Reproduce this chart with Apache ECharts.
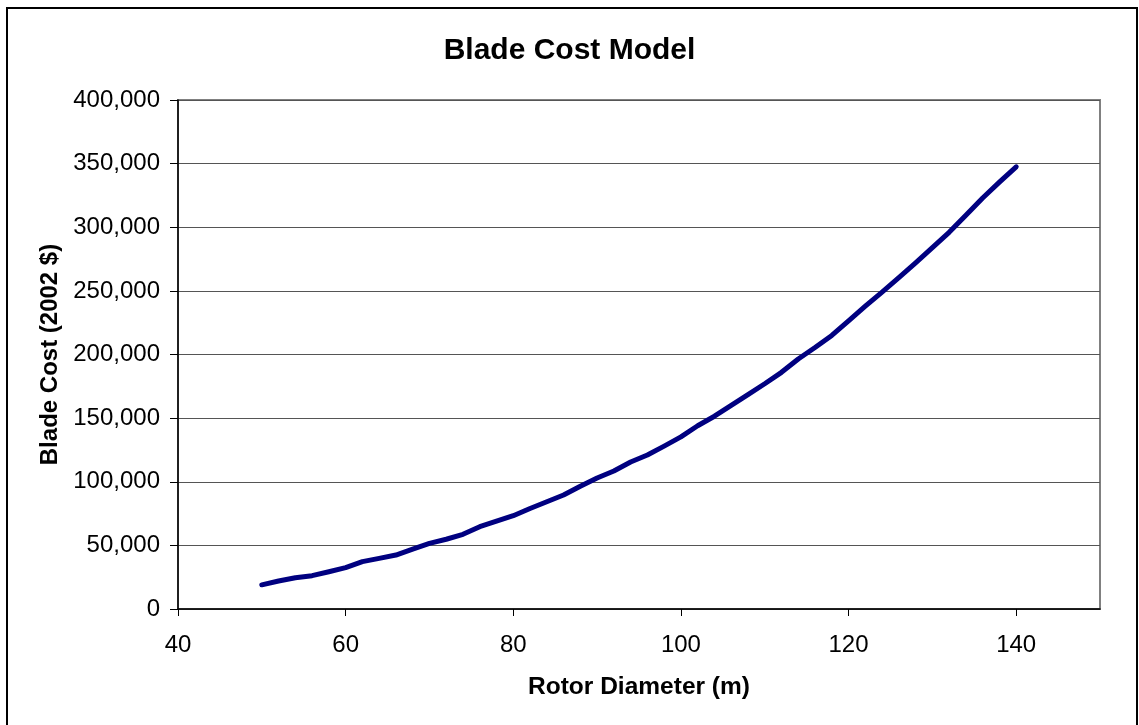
<!DOCTYPE html>
<html>
<head>
<meta charset="utf-8">
<script src="https://cdn.jsdelivr.net/npm/echarts@6/dist/echarts.min.js"></script>
<style>
html,body{margin:0;padding:0;background:#fff;}
#chart{width:1139px;height:725px;}
</style>
</head>
<body>
<div id="chart"></div>
<script>
const rotorDiameter = [50,52,54,56,58,60,62,64,66,68,70,72,74,76,78,80,82,84,86,88,90,92,94,96,98,100,102,104,106,108,110,112,114,116,118,120,122,124,126,128,130,132,134,136,138,140];
const bladeCost = [19000,22000,24600,26200,29300,32500,37200,39800,42400,47000,51600,54800,58700,64700,69000,73300,79000,84300,89600,96500,103000,108500,115500,121000,128000,135300,144000,151500,160000,168500,177000,186000,196500,205500,215000,226500,238000,249000,260500,272000,284000,296000,309500,323000,335500,347500];
const titleText = "Blade Cost Model";
const xName = "Rotor Diameter (m)";
const yName = "Blade Cost (2002 $)";

const chart = echarts.init(document.getElementById('chart'), null, {renderer:'canvas'});
const font = "'Liberation Sans', Arial, sans-serif";
chart.setOption({
  backgroundColor:'#fff',
  animation:false,
  title:{
    text:titleText, left:'center', top:31,
    textStyle:{fontFamily:font, fontSize:30, fontWeight:'bold', color:'#000'}
  },
  grid:{left:178, top:100, right:39, bottom:116, show:true, borderColor:'#808080', borderWidth:2, backgroundColor:'#fff', containLabel:false, outerBoundsMode:'none'},
  xAxis:{
    type:'value', min:40, max:150, interval:20,
    name:xName, nameLocation:'middle', nameGap:66,
    nameTextStyle:{fontFamily:font, fontSize:24.5, fontWeight:'bold', color:'#000'},
    axisLine:{onZero:false, lineStyle:{color:'#000', width:1.5}},
    axisTick:{show:true, length:7, lineStyle:{color:'#000'}},
    axisLabel:{fontFamily:font, fontSize:24, color:'#000', margin:24, showMaxLabel:false},
    splitLine:{show:false}
  },
  yAxis:{
    type:'value', min:0, max:400000, interval:50000,
    name:yName, nameLocation:'middle', nameGap:116, nameRotate:90,
    nameTextStyle:{fontFamily:font, fontSize:24, fontWeight:'bold', color:'#000'},
    axisLine:{show:true, lineStyle:{color:'#000', width:1.5}},
    axisTick:{show:true, length:8, lineStyle:{color:'#000'}},
    axisLabel:{fontFamily:font, fontSize:24, color:'#000', margin:18,
      formatter:v=>v.toLocaleString('en-US')},
    splitLine:{show:true, lineStyle:{color:'#555', width:1}}
  },
  series:[{
    type:'line',
    data:rotorDiameter.map((d,i)=>[d,bladeCost[i]]),
    symbol:'none', smooth:false,
    lineStyle:{color:'#000080', width:5, cap:'round', join:'round'},
    z:5
  }],
  graphic:[{
    type:'rect', silent:true, z:100,
    shape:{x:7, y:8, width:1130, height:730},
    style:{fill:null, stroke:'#000', lineWidth:2}
  }]
});
</script>
</body>
</html>
